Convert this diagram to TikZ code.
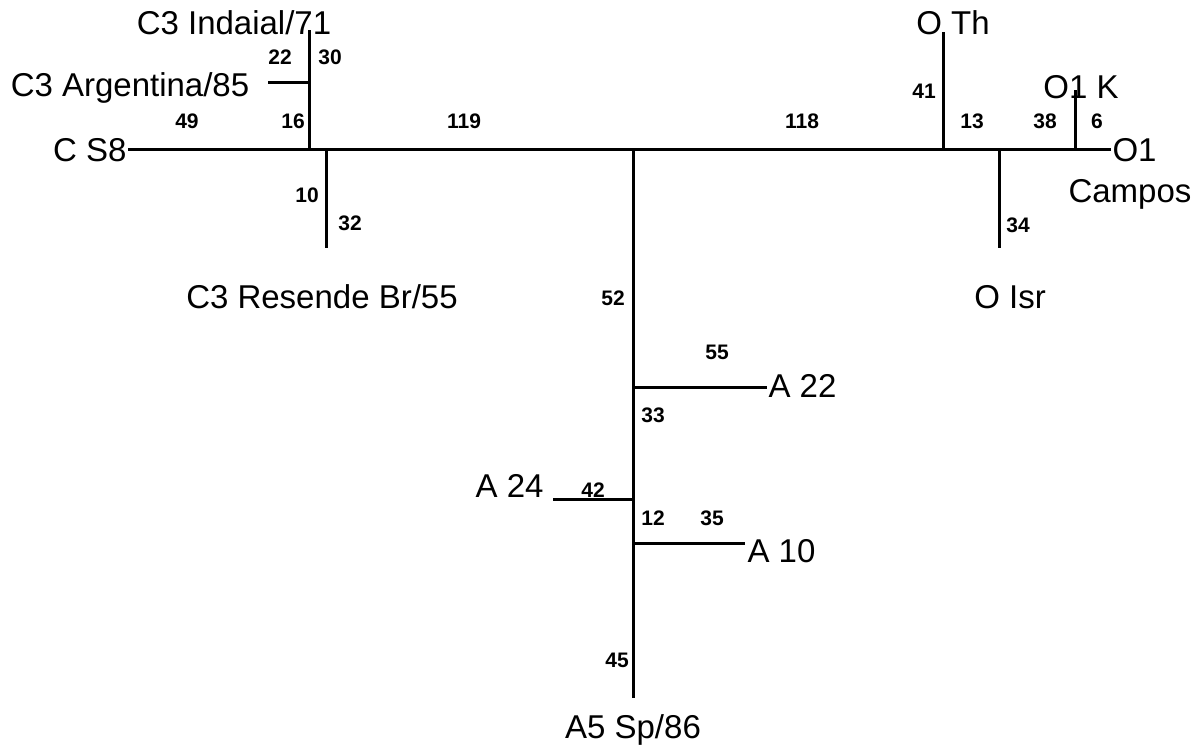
\documentclass[tikz,border=0pt]{standalone}
\usepackage{fontspec}
\setmainfont{Liberation Sans}
\usetikzlibrary{positioning}
\begin{document}
\begin{tikzpicture}[x=1pt,y=-1pt,line width=3pt,lf/.style={inner sep=0pt,font=\fontsize{33}{33}\selectfont},n/.style={inner sep=0pt,font=\fontsize{21}{21}\selectfont\bfseries}]
 \useasboundingbox (0,0) rectangle (1204,746);
 \coordinate (jc) at (309,150); \coordinate (jarg) at (309,83); \coordinate (tind) at (309,30); \coordinate (targ) at (268,83);
 \coordinate (jres) at (326,150); \coordinate (tres) at (326,248);
 \coordinate (jr) at (633,150); \coordinate (ja22) at (633,387); \coordinate (ja24) at (633,499); \coordinate (ja10) at (633,543);
 \coordinate (ta24) at (553,499); \coordinate (ta10) at (745,543); \coordinate (ta5) at (633,698);
 \coordinate (jth) at (943,150); \coordinate (tth) at (943,32); \coordinate (jisr) at (999,150); \coordinate (tisr) at (999,248);
 \coordinate (jk) at (1075,150); \coordinate (tk) at (1075,90);
 \node[lf,anchor=east] (cs8) at (128,150) {C S8};
 \node[lf,anchor=west] (o1) at (1111,150) {O1};
 \node[lf,anchor=base] (campos) at (1130,203) {Campos};
 \node[lf,anchor=base] (ind) at (234,35) {C3 Indaial/71};
 \node[lf,anchor=base] (arg) at (130,97) {C3 Argentina/85};
 \node[lf,anchor=base] (res) at (322,308) {C3 Resende Br/55};
 \node[lf,anchor=base] (th) at (953,35) {O Th};
 \node[lf,anchor=base] (ok) at (1081,99) {O1 K};
 \node[lf,anchor=base] (isr) at (1010,308) {O Isr};
 \node[lf,anchor=west] (a22) at (767,386) {A 22};
 \node[lf,anchor=base east] (a24) at (545,497) {A 24};
 \node[lf,anchor=base west] (a10) at (746,562) {A 10};
 \node[lf,anchor=base] (a5) at (633,738) {A5 Sp/86};
 \draw (cs8) -- (o1);
 \draw (jc) -- (tind); \draw (jarg) -- (targ); \draw (jres) -- (tres);
 \draw (jr) -- (ta5); \draw (ja22) -- (a22.west |- ja22); \draw (ja24) -- (ta24); \draw (ja10) -- (ta10);
 \draw (jth) -- (tth); \draw (jisr) -- (tisr); \draw (jk) -- (tk);
 \node[n] (l49) at (187,121) {49}; \node[n] (l16) at (293,121) {16};
 \node[n] (l22) at (280,57) {22}; \node[n] (l30) at (330,57) {30};
 \node[n] (l10) at (307,195) {10}; \node[n] (l32) at (350,223) {32};
 \node[n] (l119) at (464,121) {119}; \node[n] (l118) at (802,121) {118};
 \node[n] (l41) at (924,91) {41}; \node[n] (l13) at (972,121) {13};
 \node[n] (l38) at (1045,121) {38}; \node[n] (l6) at (1097,121) {6};
 \node[n] (l34) at (1018,225) {34}; \node[n] (l52) at (613,298) {52};
 \node[n] (l55) at (717,352) {55}; \node[n] (l33) at (653,415) {33};
 \node[n] (l42) at (593,490) {42}; \node[n] (l12) at (653,518) {12};
 \node[n] (l35) at (712,518) {35}; \node[n] (l45) at (617,660) {45};
\end{tikzpicture}
\end{document}
